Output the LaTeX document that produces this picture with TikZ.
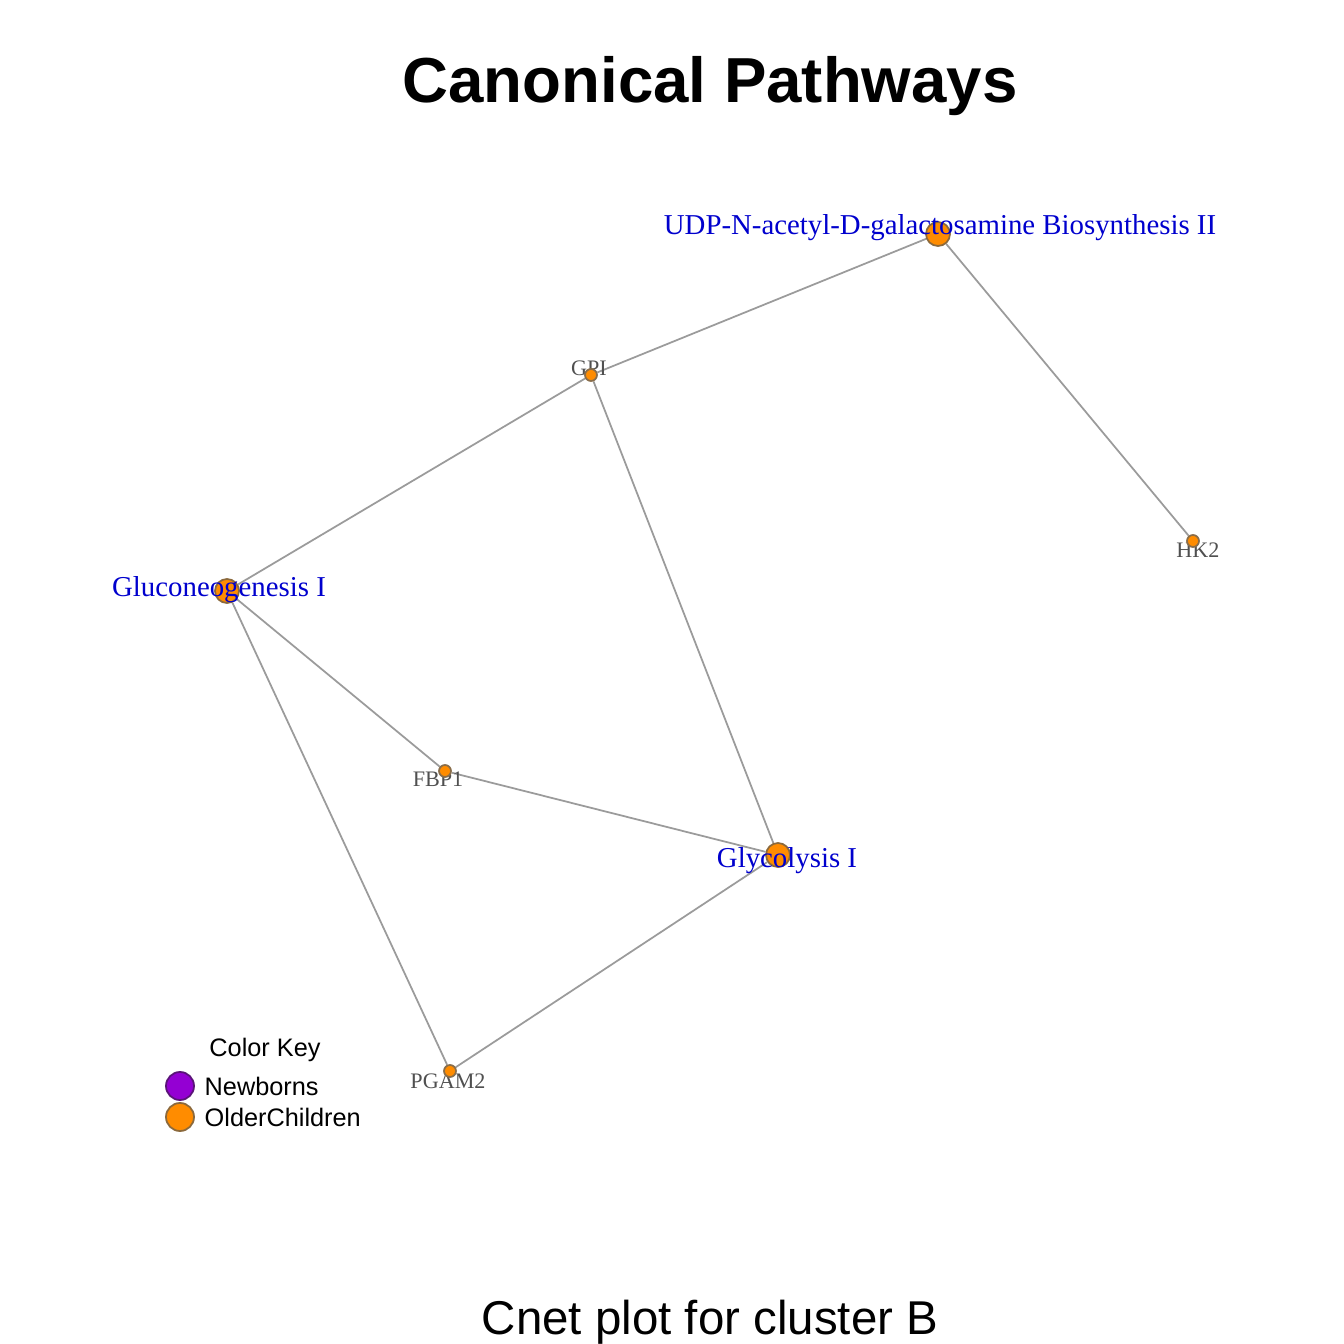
\documentclass[tikz,border=0pt]{standalone}
\usepackage{fontspec}
\setmainfont{Liberation Serif}
\newfontfamily\helv{Liberation Sans}
\usetikzlibrary{backgrounds}
\definecolor{nodeorange}{RGB}{255,140,0}
\definecolor{nodeborder}{RGB}{139,105,60}
\definecolor{keypurple}{RGB}{148,0,211}
\definecolor{keyborder}{RGB}{90,20,120}
\definecolor{edgegray}{RGB}{155,155,155}
\definecolor{pathblue}{RGB}{0,0,205}
\definecolor{genegray}{RGB}{80,80,80}
\tikzset{
    pathnode/.style = {circle, draw = nodeborder, fill = nodeorange, line width = 0.5pt, inner sep = 0pt, minimum size = 0.24cm},
    genenode/.style = {circle, draw = nodeborder!80!gray, fill = nodeorange, line width = 0.5pt, inner sep = 0pt, minimum size = 0.12cm},
    pathlabel/.style = {text = pathblue, font = \fontsize{8.2}{9}\selectfont, inner sep = 0pt},
    genelabel/.style = {text = genegray, font = \fontsize{6.3}{7}\selectfont, inner sep = 0pt},
    edge/.style = {draw = edgegray, line width = 0.5pt},
    keydot/.style = {circle, line width = 0.5pt, inner sep = 0pt, minimum size = 0.28cm}
}
\begin{document}
\begin{tikzpicture}
    \useasboundingbox (0, 0) rectangle (13.44, 13.44);
    % title
    \node (title) at (7.10, 12.58) {\helv\bfseries\fontsize{18.1}{20}\selectfont Canonical Pathways};
    % pathways
    \node [pathnode] (udp) at (9.38, 11.10) {};
    \node [pathnode] (gluco) at (2.27, 7.53) {};
    \node [pathnode] (glyco) at (7.78, 4.89) {};
    % genes
    \node [genenode] (gpi) at (5.91, 9.69) {};
    \node [genenode] (hk2) at (11.93, 8.03) {};
    \node [genenode] (fbp1) at (4.45, 5.73) {};
    \node [genenode] (pgam2) at (4.50, 2.73) {};
    \begin{scope}[on background layer]
        \draw [edge]
            (udp) -- (gpi)
            (udp) -- (hk2)
            (gpi) -- (gluco)
            (gpi) -- (glyco)
            (gluco) -- (fbp1)
            (gluco) -- (pgam2)
            (fbp1) -- (glyco)
            (glyco) -- (pgam2)
        ;
        \node [genelabel] (gpilabel) at (5.89, 9.76) {GPI};
        \node [genelabel] (hk2label) at (11.98, 7.94) {HK2};
        \node [genelabel] (fbp1label) at (4.38, 5.65) {FBP1};
        \node [genelabel] (pgam2label) at (4.48, 2.63) {PGAM2};
    \end{scope}
    \node [pathlabel] (udplabel) at (9.40, 11.16) {UDP-N-acetyl-D-galactosamine Biosynthesis II};
    \node [pathlabel] (glucolabel) at (2.19, 7.54) {Gluconeogenesis I};
    \node [pathlabel] (glycolabel) at (7.87, 4.83) {Glycolysis I};
    % color key
    \node (keytitle) at (2.65, 2.94) {\helv\fontsize{7.2}{8}\selectfont Color Key};
    \node [keydot, draw = keyborder, fill = keypurple] (newdot) at (1.80, 2.58) {};
    \node [keydot, draw = nodeborder, fill = nodeorange] (olddot) at (1.80, 2.27) {};
    \node [anchor = west, inner sep = 0pt] (newtext) at (2.04, 2.58) {\helv\fontsize{7.2}{8}\selectfont Newborns};
    \node [anchor = west, inner sep = 0pt] (oldtext) at (2.04, 2.27) {\helv\fontsize{7.2}{8}\selectfont OlderChildren};
    % caption
    \node (caption) at (7.10, 0.22) {\helv\fontsize{13.5}{15}\selectfont Cnet plot for cluster B};
\end{tikzpicture}
\end{document}
